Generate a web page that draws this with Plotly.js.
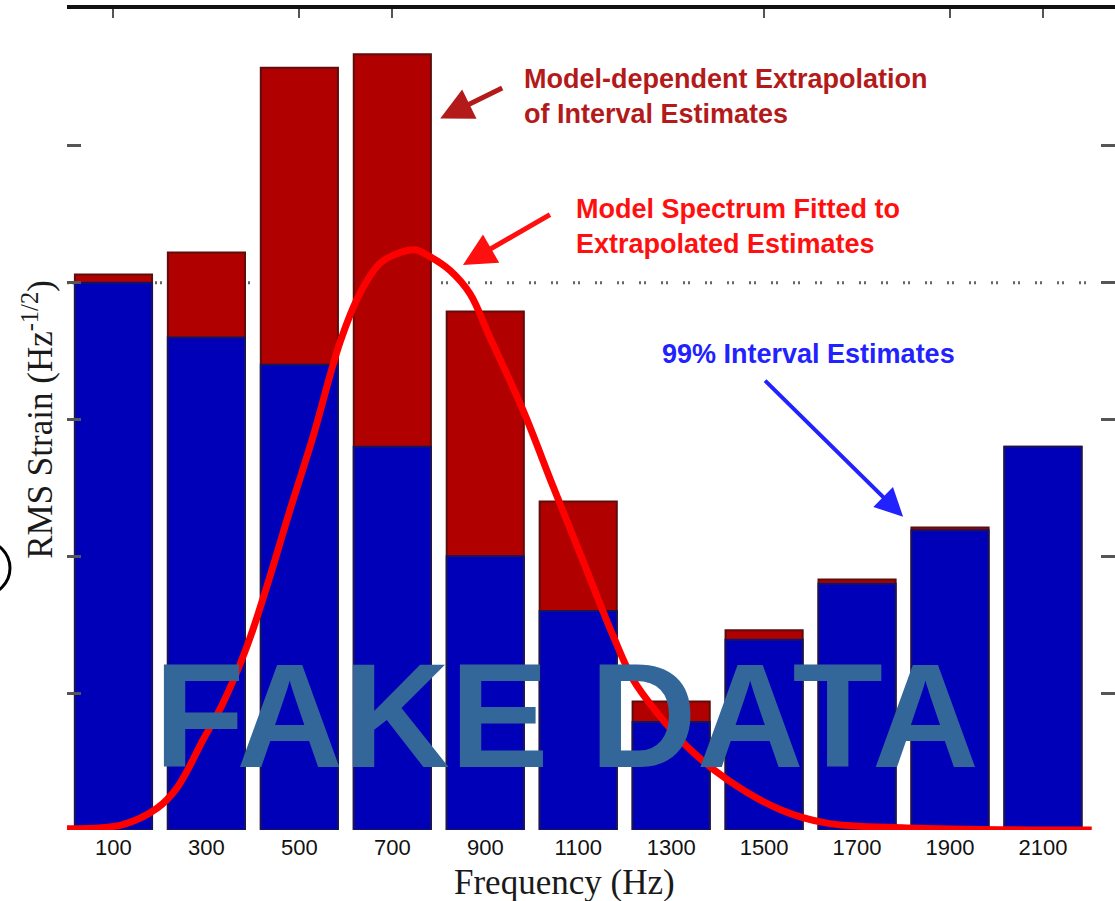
<!DOCTYPE html>
<html>
<head>
<meta charset="utf-8">
<script src="https://cdn.plot.ly/plotly-3.0.1.min.js"></script>
<style>
  html, body { margin: 0; padding: 0; background: #ffffff; }
  #chart { width: 1115px; height: 901px; }
</style>
</head>
<body>
<div id="chart"></div>
<script>
// Frequency bins (Hz)
const freqs = [100, 300, 500, 700, 900, 1100, 1300, 1500, 1700, 1900, 2100];
const freqLabels = ['100', '300', '500', '700', '900', '1100', '1300', '1500', '1700', '1900', '2100'];

// 99% interval estimates of RMS strain
const intervalEst = [4.00, 3.60, 3.40, 2.80, 2.00, 1.60, 0.79, 1.39, 1.80, 2.19, 2.80];
// Model-dependent extrapolation of the interval estimates
const extrapolatedEst = [4.06, 4.22, 5.57, 5.67, 3.79, 2.40, 0.94, 1.46, 1.83, 2.21, 2.80];

// Model spectrum fitted to the extrapolated estimates
const modelFreq = [0, 120, 194, 237, 293, 336, 387, 430, 480, 529, 587, 630, 673, 717, 749, 781, 824, 867, 910, 981, 1046, 1104, 1175, 1218, 1269, 1334, 1420, 1534, 1635, 1807, 2094, 2205];
const modelStrain = [0.01, 0.04, 0.16, 0.31, 0.66, 0.93, 1.34, 1.78, 2.34, 2.87, 3.56, 3.92, 4.14, 4.22, 4.24, 4.19, 4.09, 3.92, 3.60, 3.07, 2.51, 2.02, 1.42, 1.10, 0.86, 0.61, 0.37, 0.15, 0.05, 0.015, 0.0, 0.0];

// Dotted reference level and axis tick values
const refLevel = 4;
const yTickVals = [1, 2, 3, 4, 5];
const topTickVals = [100, 500, 700, 1500, 1900, 2100];

const xRange = [0, 2255];
const yRange = [0, 6];

const traces = [
  {
    type: 'bar',
    x: freqs,
    y: extrapolatedEst,
    width: 166,
    marker: { color: '#b00000', line: { color: '#5e0c0c', width: 2 } },
    hoverinfo: 'x+y',
    name: 'Extrapolated'
  },
  {
    type: 'bar',
    x: freqs,
    y: intervalEst,
    width: 166,
    marker: { color: '#0000b8', line: { color: '#15155e', width: 2 } },
    hoverinfo: 'x+y',
    name: '99% interval'
  },
  {
    type: 'scatter',
    mode: 'lines',
    x: modelFreq,
    y: modelStrain,
    line: { color: '#ff0000', width: 7, shape: 'spline', smoothing: 1 },
    hoverinfo: 'skip',
    name: 'Model'
  },
  {
    // invisible trace to carry the top axis
    type: 'scatter',
    mode: 'markers',
    x: [freqs[0]],
    y: [0],
    xaxis: 'x2',
    marker: { opacity: 0 },
    hoverinfo: 'skip',
    showlegend: false
  }
];

const annFont = { family: 'Liberation Sans, Arial, sans-serif', size: 27 };

const layout = {
  width: 1115,
  height: 901,
  margin: { l: 67, r: 0, t: 9, b: 71 },
  paper_bgcolor: '#ffffff',
  plot_bgcolor: '#ffffff',
  showlegend: false,
  barmode: 'overlay',
  xaxis: {
    range: xRange,
    showgrid: false,
    zeroline: false,
    showline: false,
    ticks: '',
    tickmode: 'array',
    tickvals: freqs,
    ticktext: freqLabels,
    ticklabelstandoff: 2,
    tickfont: { family: 'Liberation Sans, Arial, sans-serif', size: 22, color: '#111111' }
  },
  xaxis2: {
    range: xRange,
    overlaying: 'x',
    side: 'top',
    showgrid: false,
    zeroline: false,
    showline: true,
    linecolor: '#111111',
    linewidth: 4,
    ticks: 'inside',
    ticklen: 9,
    tickwidth: 2,
    tickcolor: '#555555',
    tickmode: 'array',
    tickvals: topTickVals,
    showticklabels: false
  },
  yaxis: {
    range: yRange,
    showgrid: false,
    zeroline: false,
    showline: false,
    ticks: 'inside',
    ticklen: 14,
    tickwidth: 3,
    tickcolor: '#555555',
    mirror: 'ticks',
    tickmode: 'array',
    tickvals: yTickVals,
    showticklabels: false,
    title: {
      text: 'RMS Strain (Hz<sup>-1/2</sup>)',
      font: { family: 'Liberation Serif, Times New Roman, serif', size: 35, color: '#1a1a1a' },
      standoff: 2
    }
  },
  shapes: [
    {
      type: 'line',
      layer: 'below',
      xref: 'paper', yref: 'y',
      x0: 0, x1: 0.985, y0: refLevel, y1: refLevel,
      line: { color: '#666666', width: 3, dash: '2px,3px,2px,15px' }
    },
    {
      type: 'circle',
      xref: 'paper', yref: 'paper',
      x0: -0.106, x1: -0.0544, y0: 0.286, y1: 0.352,
      line: { color: '#000000', width: 3 }
    }
  ],
  annotations: [
    {
      xref: 'paper', yref: 'paper',
      x: 0.475, y: -0.038,
      xanchor: 'center', yanchor: 'top',
      showarrow: false,
      text: 'Frequency (Hz)',
      font: { family: 'Liberation Serif, Times New Roman, serif', size: 35, color: '#1a1a1a' }
    },
    // label texts
    {
      xref: 'x', yref: 'y', x: 979, y: 5.61,
      xanchor: 'left', yanchor: 'top', align: 'left',
      showarrow: false,
      text: '<b>Model-dependent Extrapolation<br>of Interval Estimates</b>',
      font: Object.assign({ color: '#b31b1b' }, annFont)
    },
    {
      xref: 'x', yref: 'y', x: 1091, y: 4.66,
      xanchor: 'left', yanchor: 'top', align: 'left',
      showarrow: false,
      text: '<b>Model Spectrum Fitted to<br>Extrapolated Estimates</b>',
      font: Object.assign({ color: '#ff1010' }, annFont)
    },
    {
      xref: 'x', yref: 'y', x: 1276, y: 3.60,
      xanchor: 'left', yanchor: 'top', align: 'left',
      showarrow: false,
      text: '<b>99% Interval Estimates</b>',
      font: Object.assign({ color: '#2222ff' }, annFont)
    },
    // pointer arrows
    {
      xref: 'x', yref: 'y', x: 803, y: 5.20,
      ax: 65, ay: -32, text: ' ',
      showarrow: true, arrowhead: 2, arrowsize: 1.3, arrowwidth: 5,
      arrowcolor: '#b31b1b', standoff: 0
    },
    {
      xref: 'x', yref: 'y', x: 852, y: 4.13,
      ax: 90, ay: -52, text: ' ',
      showarrow: true, arrowhead: 2, arrowsize: 1.3, arrowwidth: 5,
      arrowcolor: '#ff1010', standoff: 0
    },
    {
      xref: 'x', yref: 'y', x: 1799, y: 2.29,
      ax: -141, ay: -139, text: ' ',
      showarrow: true, arrowhead: 2, arrowsize: 1.4, arrowwidth: 4,
      arrowcolor: '#2222ff', standoff: 0
    },
    // watermark
    {
      xref: 'paper', yref: 'paper', x: 0.4766, y: 0.139,
      xanchor: 'center', yanchor: 'middle',
      showarrow: false,
      text: '<b>FAKE DATA</b>',
      font: { family: 'Liberation Sans, Arial, sans-serif', size: 148, color: '#336699' }
    }
  ]
};

Plotly.newPlot('chart', traces, layout, { displayModeBar: false, staticPlot: true });
</script>
</body>
</html>
